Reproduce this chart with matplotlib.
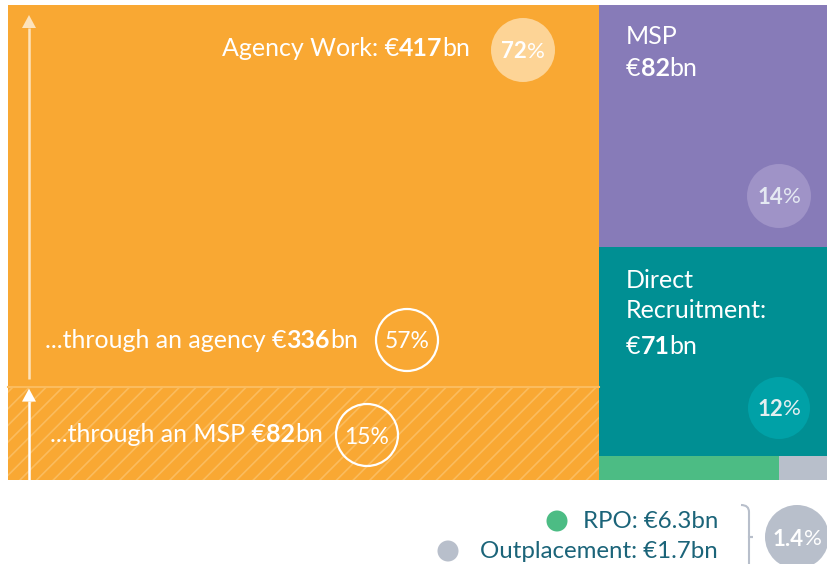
import matplotlib
matplotlib.use("Agg")
import matplotlib.pyplot as plt
from matplotlib.patches import Rectangle, Circle, PathPatch, Polygon
from matplotlib.path import Path

# ---- data ----
categories = ["Agency Work", "MSP", "Direct Recruitment", "RPO", "Outplacement"]
values_bn = [417, 82, 71, 6.3, 1.7]
shares_pct = ["72", "14", "12", "1.4"]
agency_sub_labels = ["...through an agency", "...through an MSP"]
agency_sub_values = [336, 82]
agency_sub_pct = ["57", "15"]

ORANGE = "#F9A833"
PURPLE = "#877BB8"
TEAL = "#008F93"
GREEN = "#4CBC84"
GREY = "#B8BFCB"
DARK = "#1B6479"

plt.rcParams['font.family'] = ['Lato', 'DejaVu Sans']
plt.rcParams['hatch.linewidth'] = 1.2

fig = plt.figure(figsize=(8.27, 5.64), dpi=100)
ax = fig.add_axes([0, 0, 1, 1])
ax.set_xlim(0, 827)
ax.set_ylim(564, 0)
ax.axis('off')
renderer = fig.canvas.get_renderer()

X0, Y0, W, H = 8, 5, 819, 475
total = sum(values_bn)
agency, msp, direct, rpo, outp = values_bn
wa = W * agency / total
xr = X0 + wa
wr = W - wa
rest = msp + direct + rpo + outp
h_msp = H * msp / rest
h_dir = H * direct / rest
h_small = H - h_msp - h_dir

# agency block
ax.add_patch(Rectangle((X0, Y0), wa, H, facecolor=ORANGE, edgecolor='none'))
h_sub = H * agency_sub_values[1] / agency
ax.add_patch(Rectangle((X0, Y0 + H - h_sub), wa, h_sub, facecolor=ORANGE,
                       edgecolor='#FBBC5E', hatch='//', linewidth=0))
ax.plot([X0, xr], [Y0 + H - h_sub, Y0 + H - h_sub], color='#FBBC5E', lw=1.5)

# right blocks
ax.add_patch(Rectangle((xr, Y0), wr, h_msp, facecolor=PURPLE, edgecolor='none'))
ax.add_patch(Rectangle((xr, Y0 + h_msp), wr, h_dir, facecolor=TEAL, edgecolor='none'))
w_rpo = wr * rpo / (rpo + outp)
ax.add_patch(Rectangle((xr, Y0 + h_msp + h_dir), w_rpo, h_small, facecolor=GREEN, edgecolor='none'))
ax.add_patch(Rectangle((xr + w_rpo, Y0 + h_msp + h_dir), wr - w_rpo, h_small, facecolor=GREY, edgecolor='none'))

# arrows
ax_x = 29
ytop_sub = Y0 + H - h_sub
ax.plot([ax_x, ax_x], [ytop_sub - 8, 28], color='#FDE3BC', lw=1.8, solid_capstyle='butt')
ax.add_patch(Polygon([[ax_x - 7, 28], [ax_x + 7, 28], [ax_x, 15]],
                     closed=True, facecolor='#FDE3BC', edgecolor='none'))
ax.plot([ax_x, ax_x], [Y0 + H, ytop_sub + 14], color='white', lw=1.8, solid_capstyle='butt')
ax.add_patch(Polygon([[ax_x - 7, ytop_sub + 15], [ax_x + 7, ytop_sub + 15], [ax_x, ytop_sub + 2]],
                     closed=True, facecolor='white', edgecolor='none'))


def rich(x, y, segs, size, color, ha='left'):
    """segs: list of (text, weight)"""
    arts = []
    widths = []
    for s, w in segs:
        t = ax.text(0, y, s, fontsize=size, color=color, fontweight=w, va='center', ha='left')
        bb = t.get_window_extent(renderer)
        widths.append(bb.width)
        arts.append(t)
    totalw = sum(widths)
    cx = x - totalw if ha == 'right' else (x - totalw / 2 if ha == 'center' else x)
    for t, w in zip(arts, widths):
        t.set_x(cx)
        cx += w


FS = 18
R = 'normal'
rich(470, 49, [("Agency Work: €", R), (f"{agency}", 'bold'), ("bn", R)], FS, 'white', ha='right')
ax.add_patch(Circle((523, 50), 32, facecolor='#FDD496', edgecolor='none'))
rich(523, 52, [(f"{shares_pct[0]}", 'bold'), ("%", R)], 16, 'white', ha='center')

rich(45, 341, [(f"{agency_sub_labels[0]} €", R), (f"{agency_sub_values[0]}", 'bold'), ("bn", R)], FS, 'white')
ax.add_patch(Circle((407, 340), 31, facecolor='none', edgecolor='white', lw=1.6))
rich(407, 342, [(f"{agency_sub_pct[0]}%", R)], 16.5, 'white', ha='center')

rich(50, 435, [(f"{agency_sub_labels[1]} €", R), (f"{agency_sub_values[1]}", 'bold'), ("bn", R)], FS, 'white')
ax.add_patch(Circle((367, 435), 31, facecolor='none', edgecolor='white', lw=1.6))
rich(367, 437, [(f"{agency_sub_pct[1]}%", R)], 16.5, 'white', ha='center')

# MSP
rich(626, 37, [(categories[1], R)], FS, 'white')
rich(626, 68, [("€", R), (f"{msp}", 'bold'), ("bn", R)], FS, 'white')
ax.add_patch(Circle((779, 196), 32, facecolor='#9F93C7', edgecolor='none'))
rich(779, 197, [(shares_pct[1], 'bold'), ("%", R)], 16, '#E4E8F2', ha='center')

# Direct
rich(626, 281, [("Direct", R)], FS, 'white')
rich(626, 311, [("Recruitment:", R)], FS, 'white')
rich(626, 346, [("€", R), (f"{direct}", 'bold'), ("bn", R)], FS, 'white')
ax.add_patch(Circle((779, 408), 31, facecolor='#00A1A7', edgecolor='none'))
rich(779, 409, [(shares_pct[2], 'bold'), ("%", R)], 16, '#E4EEF0', ha='center')

# legend
rich(718, 521, [(f"{categories[3]}: €{rpo}bn", R)], 17.3, DARK, ha='right')
ax.add_patch(Circle((557, 521), 10.5, facecolor=GREEN, edgecolor='none'))
rich(718, 551, [(f"{categories[4]}: €{outp}bn", R)], 17.3, DARK, ha='right')
ax.add_patch(Circle((448, 551), 10.5, facecolor=GREY, edgecolor='none'))

# brace
verts = [(741, 505), (749, 505), (749, 512), (749, 520), (749, 528), (749, 537), (757, 537),
         (749, 537), (749, 546), (749, 555), (749, 566)]
codes = [Path.MOVETO, Path.CURVE3, Path.CURVE3, Path.LINETO, Path.CURVE3, Path.CURVE3,
         Path.CURVE3, Path.CURVE3, Path.CURVE3, Path.LINETO, Path.LINETO]
ax.add_patch(PathPatch(Path(verts, codes), facecolor='none', edgecolor=GREY, lw=1.5))

ax.add_patch(Circle((797, 537), 32, facecolor=GREY, edgecolor='none'))
rich(797, 539, [(shares_pct[3], 'bold'), ("%", R)], 16, 'white', ha='center')

fig.savefig("out.png", dpi=100)
